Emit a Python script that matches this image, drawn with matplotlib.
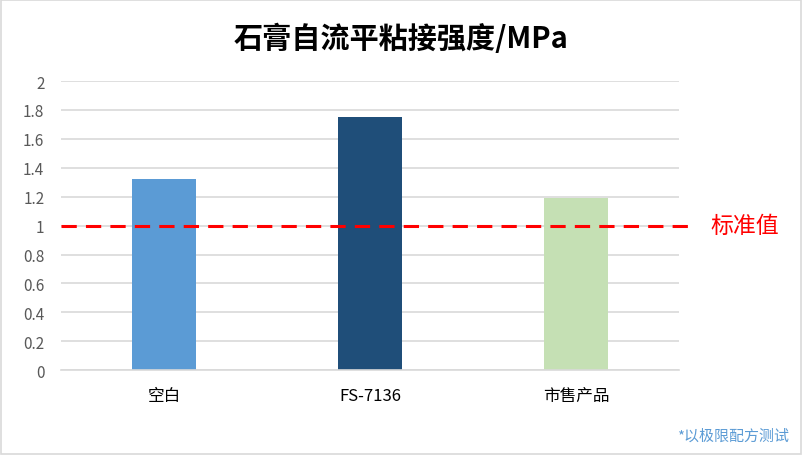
import matplotlib
matplotlib.use("Agg")
import matplotlib.pyplot as plt
from matplotlib.patches import Rectangle

plt.rcParams['font.family'] = ['Noto Sans CJK SC', 'DejaVu Sans']

categories = ['空白', 'FS-7136', '市售产品']
values = [1.32, 1.75, 1.19]
colors = ['#5B9BD5', '#1F4E79', '#C5E0B4']
standard = 1.0
yticks = [0, 0.2, 0.4, 0.6, 0.8, 1, 1.2, 1.4, 1.6, 1.8, 2]

fig = plt.figure(figsize=(8.03, 4.56), dpi=100)
ax = fig.add_axes([0.076, 0.186, 0.770, 0.634])

x = range(len(categories))
ax.bar(x, values, width=0.31, color=colors, zorder=2)

ax.set_xlim(-0.5, 2.5)
ax.set_ylim(0, 2)
ax.set_yticks(yticks)
ax.set_yticklabels([f'{t:g}' for t in yticks])
ax.set_xticks(list(x))
ax.set_xticklabels(categories)
ax.tick_params(axis='y', length=0, labelsize=11, colors='#595959', pad=12)
ax.tick_params(axis='x', length=0, labelsize=12, colors='#000000', pad=12)
ax.grid(axis='y', color='#D9D9D9', linewidth=1.2, zorder=0)
for s in ['top', 'right', 'left']:
    ax.spines[s].set_visible(False)
ax.spines['bottom'].set_color('#D9D9D9')
ax.spines['bottom'].set_linewidth(1.2)

# standard line, runs a bit past the plot area
ax.plot([-0.5, 2.55], [standard, standard], color='#FF0000', linestyle=(0, (5, 3)),
        linewidth=2.2, clip_on=False, zorder=3)
ax.text(2.65, standard, '标准值', color='#FF0000', fontsize=16.5, va='center', ha='left')

fig.text(0.5, 0.915, '石膏自流平粘接强度/MPa', ha='center', va='center',
         fontsize=21, fontweight='bold', color='black')
fig.text(0.982, 0.042, '*以极限配方测试', ha='right', va='center',
         fontsize=10.8, color='#5B9BD5')

fig.patches.append(Rectangle((0.001, 0.002), 0.997, 0.996, transform=fig.transFigure,
                             fill=False, edgecolor='#D9D9D9', linewidth=1.2))

fig.savefig('out.png', dpi=100)
